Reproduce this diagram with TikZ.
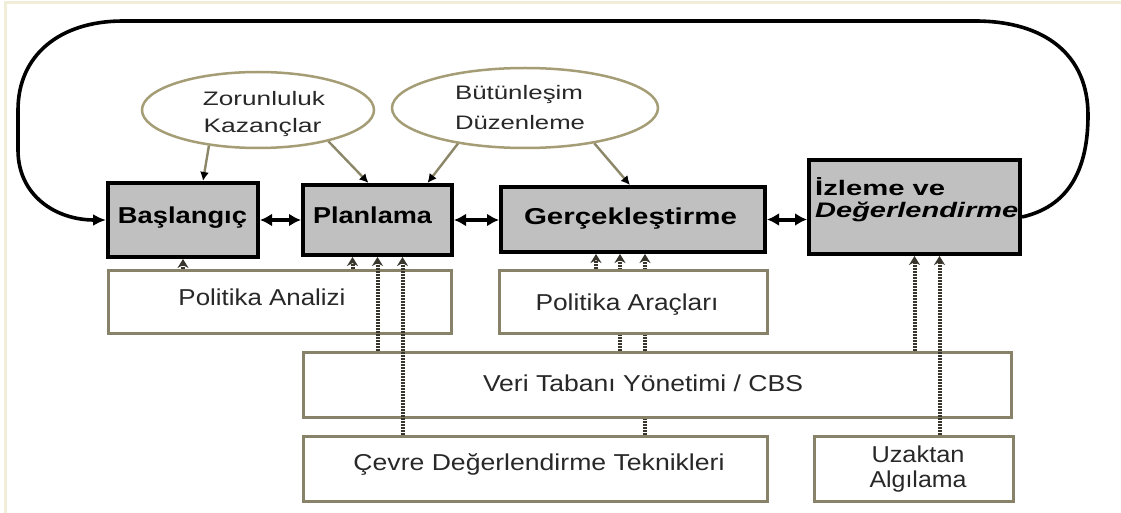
\documentclass[tikz,border=0pt]{standalone}
\usepackage{fontspec}
\setmainfont{Liberation Sans}
\usepackage{graphicx}
\usetikzlibrary{arrows.meta,shapes.geometric,backgrounds}
\definecolor{framecream}{RGB}{240,238,214}
\definecolor{boxgray}{RGB}{192,192,192}
\definecolor{khakiline}{RGB}{136,131,104}
\definecolor{ovalline}{RGB}{165,157,118}
\definecolor{feedline}{RGB}{140,135,105}
\definecolor{dotcol}{RGB}{55,53,44}
\definecolor{txtgray}{RGB}{40,40,40}
\newcommand\fitw[2]{\resizebox{#1}{\height}{#2}}
\begin{document}
\begin{tikzpicture}[x=1pt,y=-1pt,
  mainbox/.style={draw=black, line width=4pt, fill=boxgray, inner sep=0pt},
  lowbox/.style={draw=khakiline, line width=3pt, fill=white, inner sep=0pt},
  oval/.style={ellipse, draw=ovalline, line width=2.5pt, fill=white, inner sep=0pt},
  btxt/.style={inner sep=0pt, anchor=base, font=\fontsize{23}{26}\selectfont\bfseries, text=black},
  itxt/.style={inner sep=0pt, anchor=base west, font=\fontsize{21}{24}\selectfont\bfseries, text=black},
  ltxt/.style={inner sep=0pt, anchor=base, font=\fontsize{23}{27}\selectfont, text=txtgray},
  otxt/.style={inner sep=0pt, anchor=base, font=\fontsize{19.5}{27}\selectfont, text=txtgray},
  loopline/.style={draw=black, line width=3.6pt},
  twoway/.style={draw=black, line width=4pt, {Latex[length=12pt,width=13pt]}-{Latex[length=12pt,width=13pt]}},
  feed/.style={draw=feedline, line width=2.4pt, -{Latex[length=9pt,width=9pt,color=black]}},
  dotlink/.style={draw=dotcol, line width=4pt, dash pattern=on 2pt off 1pt, -{Stealth[length=9pt,width=11pt]}}
]
\useasboundingbox (0,0) rectangle (1121,513);
\begin{pgfonlayer}{background}
\fill[white] (0,0) rectangle (1121,513);
\end{pgfonlayer}
\draw[framecream, line width=3pt] (5,513) -- (5,3) -- (1121,3);

% main boxes
\node[mainbox, minimum width=150pt, minimum height=74pt] (bas) at (183,220) {};
\node[mainbox, minimum width=149pt, minimum height=70pt] (plan) at (377.5,220) {};
\node[mainbox, minimum width=264pt, minimum height=65pt] (ger) at (633,219.5) {};
\node[mainbox, minimum width=211pt, minimum height=94pt] (izl) at (914.5,207) {};

% ellipses
\node[oval, minimum width=232pt, minimum height=76pt] (z) at (258,110) {};
\node[oval, minimum width=266pt, minimum height=80pt] (b) at (525,108) {};

% lower boxes
\node[lowbox, minimum width=343pt, minimum height=63pt] (pa) at (279.5,301.5) {};
\node[lowbox, minimum width=268pt, minimum height=63pt] (par) at (633,301.5) {};
\node[lowbox, minimum width=708pt, minimum height=65pt] (veri) at (657,384.5) {};
\node[lowbox, minimum width=464pt, minimum height=65pt] (cev) at (535,468.5) {};
\node[lowbox, minimum width=199pt, minimum height=65pt] (uz) at (913.5,468.5) {};

% texts
\node[btxt] (tbas) at (182.5,223) {\fitw{129pt}{Başlangıç}};
\node[btxt] (tplan) at (372.5,223) {\fitw{119pt}{Planlama}};
\node[btxt] (tger) at (630.5,225) {\fitw{213pt}{Gerçekleştirme}};
\node[itxt] (tizl1) at (815,196) {\fitw{130pt}{İzleme ve}};
\node[itxt] (tizl2) at (815,218) {\fitw{203pt}{\itshape Değerlendirme}};

\node[otxt] (tz1) at (264,106) {\fitw{122pt}{Zorunluluk}};
\node[otxt] (tz2) at (262.5,133) {\fitw{118pt}{Kazançlar}};
\node[otxt] (tb1) at (519,100) {\fitw{128pt}{Bütünleşim}};
\node[otxt] (tb2) at (520,130) {\fitw{130pt}{Düzenleme}};

\node[ltxt] (tpa) at (262,305) {\fitw{167pt}{Politika Analizi}};
\node[ltxt] (tpar) at (627,310) {\fitw{183pt}{Politika Araçları}};
\node[ltxt] (tveri) at (643,391) {\fitw{320pt}{Veri Tabanı Yönetimi / CBS}};
\node[ltxt] (tcev) at (539,470) {\fitw{371pt}{Çevre Değerlendirme Teknikleri}};
\node[ltxt] (tuz1) at (918,462) {\fitw{93pt}{Uzaktan}};
\node[ltxt] (tuz2) at (918,487) {\fitw{97pt}{Algılama}};

% feedback loop
\draw[loopline, -{Latex[length=13pt,width=12pt]}]
  ([yshift=-10pt]izl.east) .. controls (1075,205) and (1088,160) .. (1088,115)
  .. controls (1088,55) and (1045,21) .. (975,21) -- (123,21)
  .. controls (60,21) and (18,55) .. (18,110) -- (18,150)
  .. controls (18,195) and (55,220) .. (bas.west);

% two-way arrows
\draw[twoway] (bas.east) -- (plan.west);
\draw[twoway] (plan.east) -- (plan.east -| ger.west);
\draw[twoway] (ger.east) -- (ger.east -| izl.west);

% ellipse inputs
\draw[feed] (z.216) -- ([xshift=20pt]bas.north);
\draw[feed] (z.336) -- ([xshift=-9pt]plan.north);
\draw[feed] (b.208) -- ([xshift=50pt]plan.north);
\draw[feed] (b.333) -- ([xshift=-3pt]ger.north);

% dotted links
\coordinate (p1) at ([xshift=-25pt]plan.south);
\coordinate (p3) at ([xshift=25pt]plan.south);
\coordinate (g1) at ([xshift=-37pt]ger.south);
\coordinate (g2) at ([xshift=-13pt]ger.south);
\coordinate (g3) at ([xshift=12pt]ger.south);
\coordinate (i2) at ([xshift=25pt]izl.south);

\begin{pgfonlayer}{background}
\draw[dotlink] (g2 |- veri.north) -- (g2);
\draw[dotlink] (g3 |- cev.north) -- (g3);
\end{pgfonlayer}

\draw[dotlink] (pa.north -| bas.south) -- (bas.south);
\draw[dotlink] (p1 |- pa.north) -- (p1);
\draw[dotlink] (plan.south |- veri.north) -- (plan.south);
\draw[dotlink] (p3 |- cev.north) -- (p3);
\draw[dotlink] (g1 |- par.north) -- (g1);
\draw[dotlink] (izl.south |- veri.north) -- (izl.south);
\draw[dotlink] (i2 |- uz.north) -- (i2);
\end{tikzpicture}
\end{document}
